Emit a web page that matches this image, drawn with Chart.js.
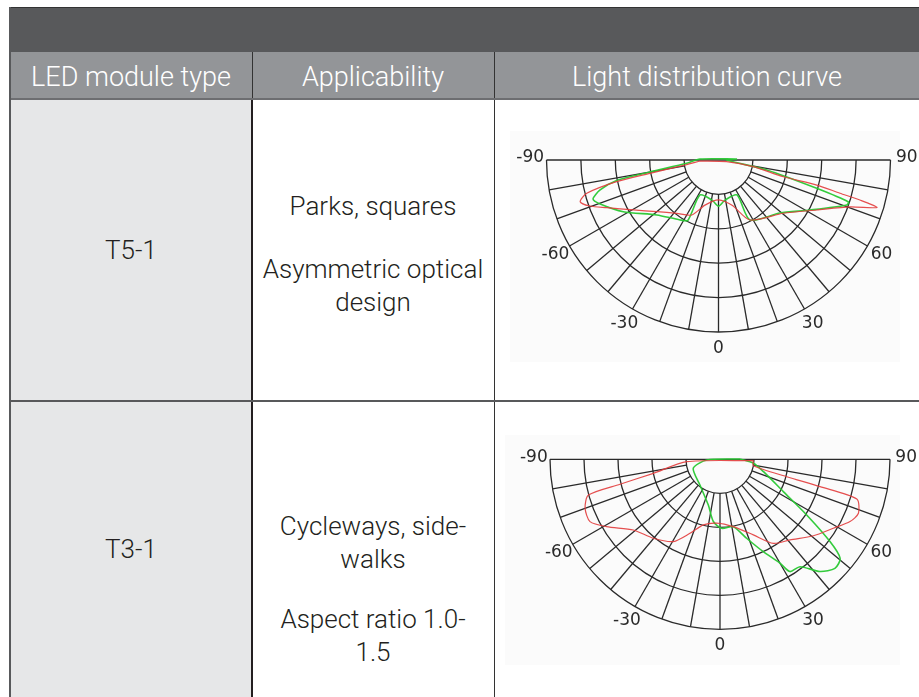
<!DOCTYPE html>
<html><head><meta charset="utf-8">
<script src="https://cdn.jsdelivr.net/npm/chart.js@4.4.1/dist/chart.umd.min.js"></script>
<style>
html,body{margin:0;padding:0;background:#fff;width:919px;height:697px;overflow:hidden;}
#page{position:relative;width:919px;height:697px;}
.b{position:absolute;}
.t{position:absolute;transform:translate(-50%,-50%);white-space:nowrap;line-height:1;font-family:Roboto,"Liberation Sans",sans-serif;font-weight:300;font-size:26px;color:#231f20;}
.h{color:#fff;font-size:27px;}
canvas{position:absolute;}
</style></head>
<body><div id="page">
<div class="b" style="left:9px;top:7px;width:910px;height:1px;background:#333;"></div>
<div class="b" style="left:9px;top:8px;width:910px;height:44px;background:#58595b;"></div>
<div class="b" style="left:9px;top:52px;width:910px;height:46px;background:#939598;"></div>
<div class="b" style="left:9px;top:98px;width:910px;height:2px;background:#6d6e71;"></div>
<div class="b" style="left:252px;top:52px;width:1px;height:46px;background:#333;"></div>
<div class="b" style="left:494px;top:52px;width:1px;height:46px;background:#333;"></div>
<div class="b" style="left:11px;top:100px;width:241px;height:597px;background:#e6e7e8;"></div>
<div class="b" style="left:9px;top:7px;width:2px;height:690px;background:#58595b;"></div>
<div class="b" style="left:251px;top:100px;width:2px;height:597px;background:#231f20;"></div>
<div class="b" style="left:494px;top:100px;width:1px;height:597px;background:#333;"></div>
<div class="b" style="left:11px;top:400px;width:908px;height:2px;background:#58595b;"></div>
<div class="b" style="left:510px;top:131px;width:390px;height:231px;background:#fbfbfb;"></div>
<div class="b" style="left:505px;top:435px;width:395px;height:230px;background:#fbfbfb;"></div>

<div class="t h" style="left:131px;top:77px;">LED module type</div>
<div class="t h" style="left:373px;top:77px;">Applicability</div>
<div class="t h" style="left:707px;top:77px;">Light distribution curve</div>

<div class="t" style="left:131px;top:250px;">T5-1</div>
<div class="t" style="left:373px;top:206px;">Parks, squares</div>
<div class="t" style="left:373px;top:269px;">Asymmetric optical</div>
<div class="t" style="left:373px;top:302px;">design</div>

<div class="t" style="left:131px;top:549px;">T3-1</div>
<div class="t" style="left:373px;top:526px;">Cycleways, side-</div>
<div class="t" style="left:373px;top:559px;">walks</div>
<div class="t" style="left:373px;top:619px;">Aspect ratio 1.0-</div>
<div class="t" style="left:373px;top:652px;">1.5</div>

<canvas id="c1" width="423" height="298" style="left:496px;top:101px;"></canvas>
<canvas id="c2" width="423" height="294" style="left:496px;top:403px;"></canvas>
</div>
<script>
// ---- grid / tick data ----
const angleTicks = [-90, -60, -30, 0, 30, 60, 90];
const tickLabels = ['-90', '-60', '-30', '0', '30', '60', '90'];
const ringValues = [1, 2, 3, 4, 5];
const spokeAngles = [-80, -70, -60, -50, -40, -30, -20, -10, 0, 10, 20, 30, 40, 50, 60, 70, 80];

// ---- T5-1 curves (angle in degrees from nadir, relative intensity) ----
const t51RedAngles = [-86.9, -81.5, -79.0, -78.0, -75.8, -73.2, -70.3, -66.9, -59.6, -50.1, -38.1, -26.0, -16.7, 0, 16.7, 27.7, 50.6, 63.0, 70.4, 73.3, 74.2, 74.7, 75.7, 75.5, 79.1, 78.3];
const t51RedValues = [0.54, 0.98, 2.03, 3.03, 3.95, 4.20, 3.97, 3.53, 2.87, 2.34, 1.97, 1.78, 1.37, 1.16, 1.37, 1.97, 2.44, 3.20, 4.06, 4.81, 4.27, 3.66, 2.95, 1.95, 1.03, 0.24];
const t51GreenAngles = [93.1, -93.1, -84.1, -80.1, -78.6, -75.8, -72.7, -69.6, -61.5, -48.3, -32.7, -26.9, -27.9, -9.2, 0, 9.2, 27.9, 27.7, 49.2, 61.3, 70.7, 72.1, 73.9, 78.3, 90];
const t51GreenValues = [0.54, 0.54, 0.93, 2.02, 3.02, 3.55, 3.82, 3.67, 3.15, 2.40, 2.07, 1.96, 1.15, 1.18, 1.34, 1.18, 1.15, 1.97, 2.36, 3.03, 3.95, 3.97, 2.97, 1.43, 0.24];

// ---- T3-1 curves ----
const t31RedAngles = [87.7, -86, -78.1, -76.0, -74.8, -70.1, -64.4, -59.3, -50.8, -40.2, -29.5, -22.1, -14.2, -3.0, 11.2, 23.8, 32.4, 41.0, 50.7, 58.7, 64.4, 68.7, 73.8, 74.7, 75.4, 79.2];
const t31RedValues = [0.98, 0.98, 2.00, 3.03, 4.01, 4.22, 4.24, 3.88, 3.29, 3.04, 2.78, 2.35, 1.99, 1.88, 2.02, 2.43, 2.93, 3.14, 3.55, 3.90, 4.24, 4.37, 4.19, 3.05, 2.03, 1.00];
const t31GreenAngles = [90.9, -87, -71.4, -37.9, -14.3, -6.1, 1.4, 11.2, 18.6, 25.1, 30.0, 31.9, 36.7, 41.7, 46.5, 50.5, 53.2, 57.3, 63.0, 74.1, 83.2];
const t31GreenValues = [0.59, 0.39, 0.83, 0.96, 1.39, 1.84, 2.03, 2.02, 2.45, 3.00, 3.53, 3.89, 3.94, 4.42, 4.66, 4.58, 4.04, 3.03, 2.09, 1.33, 0.99];

const RAD = Math.PI / 180;
function toXY(angles, values) {
  const pts = angles.map((a, i) => ({ x: values[i] * Math.sin(a * RAD), y: -values[i] * Math.cos(a * RAD) }));
  pts.push(pts[0]);
  return pts;
}

const polarGrid = {
  id: 'polarGrid',
  beforeDatasetsDraw(chart) {
    const { ctx, scales: { x, y } } = chart;
    const P = (r, a) => [x.getPixelForValue(r * Math.sin(a * RAD)), y.getPixelForValue(-r * Math.cos(a * RAD))];
    const cx = x.getPixelForValue(0), cy = y.getPixelForValue(0);
    const rMin = ringValues[0], rMax = ringValues[ringValues.length - 1];
    ctx.save();
    ctx.strokeStyle = '#2a2a2a';
    ctx.lineWidth = 1.3;
    ringValues.forEach(r => {
      const R = x.getPixelForValue(r) - cx;
      ctx.beginPath(); ctx.arc(cx, cy, R, 0, Math.PI); ctx.stroke();
    });
    spokeAngles.forEach(a => {
      const [x1, y1] = P(rMin, a), [x2, y2] = P(rMax, a);
      ctx.beginPath(); ctx.moveTo(x1, y1); ctx.lineTo(x2, y2); ctx.stroke();
    });
    const [lx, ly] = P(rMax, -90), [rx, ry] = P(rMax, 90);
    ctx.beginPath(); ctx.moveTo(lx, ly); ctx.lineTo(rx, ry); ctx.stroke();
    ctx.fillStyle = '#2a2a2a';
    ctx.font = '17px "DejaVu Sans"';
    ctx.textAlign = 'center';
    ctx.textBaseline = 'middle';
    angleTicks.forEach((a, i) => {
      const [tx, ty] = P(rMax * 1.095, a);
      ctx.fillText(tickLabels[i], tx, ty - (Math.abs(a) === 90 ? 2 : 0));
    });
    ctx.restore();
  }
};

function makeChart(id, redA, redV, greenA, greenV, centerPx, unit) {
  const cv = document.getElementById(id);
  const w = cv.width, h = cv.height;
  new Chart(cv, {
    type: 'scatter',
    data: {
      datasets: [
        { data: toXY(redA, redV), showLine: true, borderColor: 'rgba(226,60,60,0.9)', borderWidth: 1.2, pointRadius: 0, tension: 0.25, fill: false },
        { data: toXY(greenA, greenV), showLine: true, borderColor: 'rgba(40,200,50,0.95)', borderWidth: 1.6, pointRadius: 0, tension: 0.25, fill: false }
      ]
    },
    options: {
      responsive: false, animation: false, events: [],
      layout: { padding: 0 },
      plugins: { legend: { display: false }, tooltip: { enabled: false } },
      scales: {
        x: { type: 'linear', display: false, min: -centerPx[0] / unit, max: (w - centerPx[0]) / unit },
        y: { type: 'linear', display: false, min: -(h - centerPx[1]) / unit, max: centerPx[1] / unit }
      }
    },
    plugins: [polarGrid]
  });
}

makeChart('c1', t51RedAngles, t51RedValues, t51GreenAngles, t51GreenValues, [222.5, 59], 34.4);
makeChart('c2', t31RedAngles, t31RedValues, t31GreenAngles, t31GreenValues, [224, 56.3], 34);
</script>
</body></html>
